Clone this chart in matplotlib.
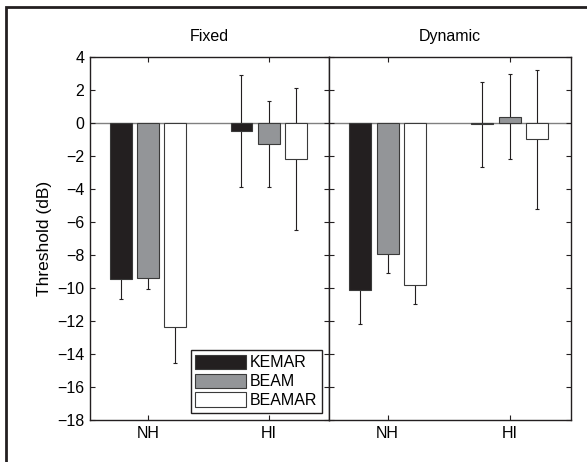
import numpy as np
import matplotlib
matplotlib.use("Agg")
import matplotlib.pyplot as plt
from matplotlib.patches import Rectangle

plt.rcParams['font.family'] = ['Liberation Sans', 'DejaVu Sans']
plt.rcParams['font.size'] = 11.5

groups = ["NH", "HI"]
series = ["KEMAR", "BEAM", "BEAMAR"]
colors = ["#231f20", "#939598", "#ffffff"]

fixed_means = {
    "KEMAR": [-9.45, -0.48],
    "BEAM": [-9.39, -1.29],
    "BEAMAR": [-12.36, -2.18],
}
fixed_err = {
    "KEMAR": [1.2, 3.4],
    "BEAM": [0.65, 2.6],
    "BEAMAR": [2.2, 4.31],
}
dynamic_means = {
    "KEMAR": [-10.1, -0.1],
    "BEAM": [-7.96, 0.37],
    "BEAMAR": [-9.8, -1.01],
}
dynamic_err = {
    "KEMAR": [2.06, 2.59],
    "BEAM": [1.11, 2.58],
    "BEAMAR": [1.19, 4.21],
}

yticks = list(range(-18, 5, 2))

W, H = 587, 462
fig = plt.figure(figsize=(W / 100, H / 100), dpi=100)

# outer frame (top and left edges visible)
fig.add_artist(Rectangle((6 / W, -0.05), 1.2, 1 - 7 / H + 0.05,
                         transform=fig.transFigure, fill=False,
                         edgecolor="#231f20", linewidth=2.0))

bot = 1 - 420 / H
hgt = (420 - 56.7) / H
ax1 = fig.add_axes([90 / W, bot, (329 - 90) / W, hgt])
ax2 = fig.add_axes([329 / W, bot, (571 - 329) / W, hgt])

x = np.arange(1, len(groups) + 1)
offsets = [-0.225, 0.0, 0.225]
width = 0.18


def draw(ax, means, errs, title):
    ax.axhline(0, color="#808080", linewidth=1.0, zorder=1)
    handles = []
    for s, off, c in zip(series, offsets, colors):
        ax.errorbar(x + off, means[s], yerr=errs[s], fmt="none",
                    ecolor="#231f20", elinewidth=0.8, capsize=1.5,
                    capthick=0.8, zorder=2)
        b = ax.bar(x + off, means[s], width=width, color=c,
                   edgecolor="#3a3a3a", linewidth=0.8, zorder=3, label=s)
        handles.append(b)
    ax.set_xlim(0.52, 2.5)
    ax.set_ylim(-18, 4)
    ax.set_xticks(x)
    ax.set_xticklabels(groups)
    ax.set_yticks(yticks)
    ax.tick_params(direction="in", top=True, right=True, length=3.5,
                   width=0.8, color="#231f20", labelsize=11.5, pad=4)
    for sp in ax.spines.values():
        sp.set_linewidth(1.0)
        sp.set_color("#231f20")
    ax.set_title(title, fontsize=11.5, pad=11)
    return handles


handles = draw(ax1, fixed_means, fixed_err, "Fixed")
draw(ax2, dynamic_means, dynamic_err, "Dynamic")

ax1.set_yticklabels([f"\u2212{abs(t)}" if t < 0 else str(t) for t in yticks])
ax2.set_yticklabels([])
ax1.set_ylabel("Threshold (dB)", fontsize=12.5, labelpad=4)

leg = ax1.legend(handles=handles, loc="lower right", fontsize=11.5,
                 handlelength=3.2, handleheight=1.0, handletextpad=0.2,
                 labelspacing=0.2, borderpad=0.3, borderaxespad=0.45,
                 fancybox=False, frameon=True, framealpha=1)
leg.get_frame().set_edgecolor("#231f20")
leg.get_frame().set_linewidth(1.0)

fig.savefig("out.png", dpi=100)
